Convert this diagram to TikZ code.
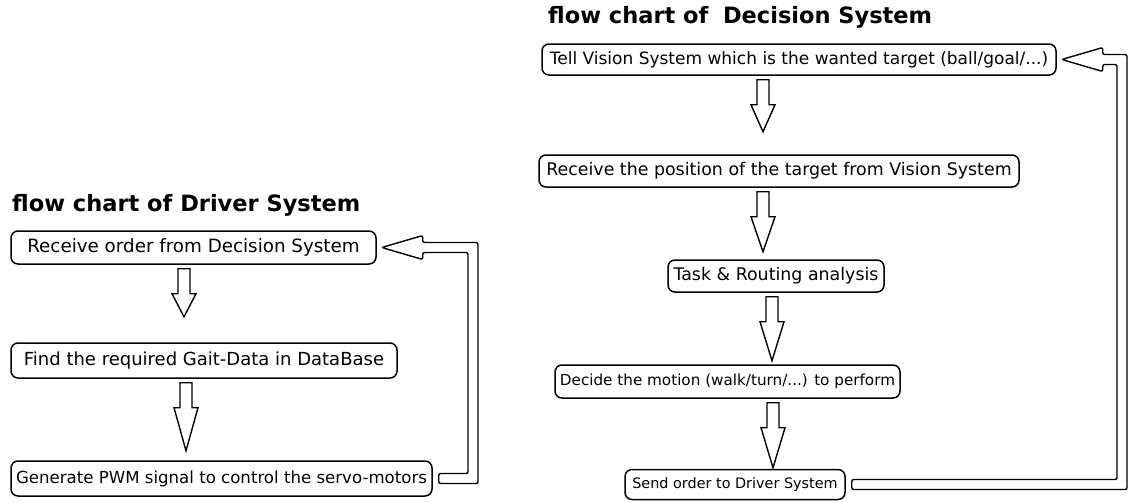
\documentclass[tikz,border=0pt]{standalone}
\usepackage{fontspec}
\setmainfont{DejaVu Sans}
\usetikzlibrary{calc}

\tikzset{
  flowbox/.style={draw, line width=1.5pt, rounded corners=7pt, inner sep=0pt},
  fs/.style={font=\fontsize{#1}{#1}\selectfont},
  charttitle/.style={anchor=west, inner sep=0pt, font=\fontsize{22.5}{24}\selectfont\bfseries},
  blockarrow/.style={draw, line width=1.4pt, fill=white, line join=miter},
  pipe/.style={draw, line width=1.4pt, rounded corners=2pt},
}

% hollow arrow pointing down: upper node, x position, length
\newcommand\blockdown[3]{%
  \draw[blockarrow] let \p1=(#2,0 |- #1.south) in
    (\x1-6pt,\y1-4pt) -- (\x1+6pt,\y1-4pt) -- (\x1+6pt,\y1-29pt) -- (\x1+12pt,\y1-29pt)
    -- (\x1,\y1-4pt-#3pt) -- (\x1-12pt,\y1-29pt) -- (\x1-6pt,\y1-29pt) -- cycle;}

% hollow return pipe: from node, to node, x of the vertical part
\newcommand\pipeback[3]{%
  \draw[pipe] let \p1=(#1.east), \p2=(#2.east) in
    (\x1+6pt,\y1+5pt) -- (#3pt-5pt,\y1+5pt) -- (#3pt-5pt,\y2-5pt)
    -- (\x2+46pt,\y2-5pt) -- (\x2+46pt,\y2-12pt) -- (\x2+5pt,\y2)
    -- (\x2+46pt,\y2+12pt) -- (\x2+46pt,\y2+5pt) -- (#3pt+5pt,\y2+5pt)
    -- (#3pt+5pt,\y1-5pt) -- (\x1+6pt,\y1-5pt) -- cycle;}

\begin{document}
\begin{tikzpicture}[x=1pt, y=-1pt]
\useasboundingbox (0,0) rectangle (1129,501);

% driver system
\node[charttitle] (ltitle) at (12,205) {flow chart of Driver System};
\node[flowbox, fs=18.3, minimum width=365pt, minimum height=33pt] (L1) at (193.5,247.5)
  {Receive order from Decision System};
\node[flowbox, fs=18, minimum width=386pt, minimum height=35pt] (L2) at (204,360.5)
  {Find the required Gait-Data in DataBase};
\node[flowbox, fs=16.6, minimum width=421pt, minimum height=35pt] (L3) at (221.5,478.5)
  {Generate PWM signal to control the servo-motors};

\blockdown{L1}{184}{48}
\blockdown{L2}{186}{68}
\pipeback{L3}{L1}{473}

% decision system
\node[charttitle] (rtitle) at (548,17) {flow chart of\hspace{0.3em} Decision System};
\node[flowbox, fs=17, minimum width=514pt, minimum height=31pt] (R1) at (799,59.5)
  {Tell Vision System which is the wanted target (ball/goal/...)};
\node[flowbox, fs=17.4, minimum width=480pt, minimum height=32pt] (R2) at (779,171)
  {Receive the position of the target from Vision System};
\node[flowbox, fs=17.4, minimum width=216pt, minimum height=32pt] (R3) at (776,276)
  {Task \& Routing analysis};
\node[flowbox, fs=15.2, minimum width=345pt, minimum height=33pt] (R4) at (727.5,381.5)
  {Decide the motion (walk/turn/...) to perform};
\node[flowbox, fs=14.4, minimum width=220pt, minimum height=30pt] (R5) at (735,484.5)
  {Send order to Driver System};

\blockdown{R1}{763}{52}
\blockdown{R2}{763}{60}
\blockdown{R3}{772}{64}
\blockdown{R4}{773}{65}
\pipeback{R5}{R1}{1122}

\end{tikzpicture}
\end{document}
